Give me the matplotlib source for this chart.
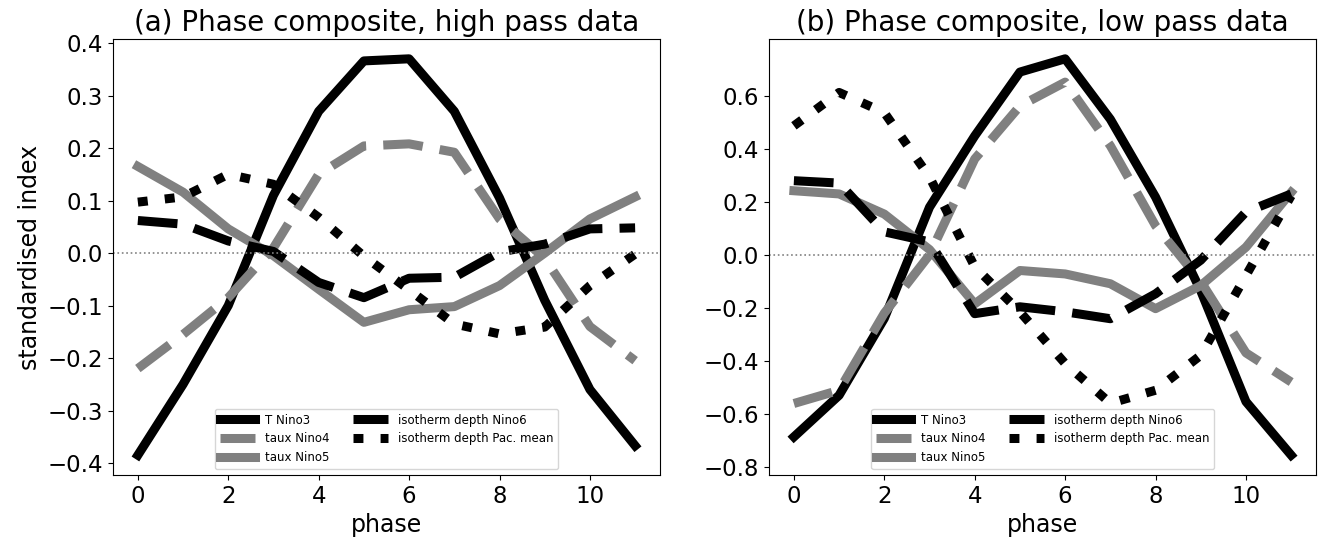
import numpy as np
import matplotlib
matplotlib.use("Agg")
import matplotlib.pyplot as plt

phase = np.arange(12)

labels = ["T Nino3", "taux Nino4", "taux Nino5",
          "isotherm depth Nino6", "isotherm depth Pac. mean"]

# (a) high pass composites
t3_hp = [-0.385, -0.25, -0.10, 0.11, 0.27, 0.366, 0.37, 0.27, 0.105, -0.09, -0.26, -0.367]
tx4_hp = [-0.22, -0.155, -0.085, 0.01, 0.15, 0.204, 0.208, 0.192, 0.065, -0.01, -0.14, -0.205]
tx5_hp = [0.165, 0.116, 0.046, -0.005, -0.069, -0.132, -0.108, -0.102, -0.062, 0.0, 0.065, 0.107]
n6_hp = [0.062, 0.055, 0.023, 0.003, -0.056, -0.085, -0.048, -0.046, 0.002, 0.017, 0.046, 0.048]
pac_hp = [0.097, 0.107, 0.15, 0.131, 0.068, -0.006, -0.07, -0.135, -0.154, -0.141, -0.062, -0.002]

# (b) low pass composites
t3_lp = [-0.687, -0.53, -0.24, 0.18, 0.449, 0.69, 0.74, 0.512, 0.218, -0.136, -0.554, -0.756]
tx4_lp = [-0.561, -0.511, -0.22, 0.0, 0.362, 0.562, 0.652, 0.412, 0.11, -0.1, -0.37, -0.48]
tx5_lp = [0.242, 0.23, 0.154, 0.02, -0.185, -0.059, -0.072, -0.109, -0.203, -0.116, 0.029, 0.236]
n6_lp = [0.28, 0.271, 0.087, 0.049, -0.222, -0.196, -0.215, -0.241, -0.147, -0.02, 0.162, 0.23]
pac_lp = [0.487, 0.613, 0.537, 0.294, -0.045, -0.215, -0.41, -0.56, -0.511, -0.379, -0.078, 0.223]

# colour, dash pattern (None = solid)
styles = [("black", None), ("grey", (4.4, 1.9)), ("grey", None),
          ("black", (4.4, 1.9)), ("black", (1.1, 1.9))]
lw = 6.5

fig = plt.figure(figsize=(13.2, 5.5), dpi=100)
ax1 = fig.add_axes([0.0856, 0.1364, 0.4144, 0.7927])
ax2 = fig.add_axes([0.5826, 0.1364, 0.4144, 0.7927])

panels = [
    (ax1, [t3_hp, tx4_hp, tx5_hp, n6_hp, pac_hp], "(a) Phase composite, high pass data"),
    (ax2, [t3_lp, tx4_lp, tx5_lp, n6_lp, pac_lp], "(b) Phase composite, low pass data"),
]

for ax, series, title in panels:
    for vals, lab, (col, dash) in zip(series, labels, styles):
        line, = ax.plot(phase, vals, color=col, linewidth=lw, label=lab)
        if dash is not None:
            line.set_dashes(dash)
    ax.axhline(0, color="grey", linestyle=":", linewidth=1.2)
    ax.set_title(title, fontsize=20)
    ax.set_xlabel("phase", fontsize=17)
    ax.tick_params(labelsize=16.5)
    ax.legend(loc="lower center", ncol=2, fontsize=8.5, handlelength=3.0)

ax1.set_ylabel("standardised index", fontsize=17)
ax1.set_yticks(np.arange(-0.4, 0.41, 0.1))
ax2.set_yticks(np.arange(-0.8, 0.61, 0.2))

fig.savefig("out.png", dpi=100)
